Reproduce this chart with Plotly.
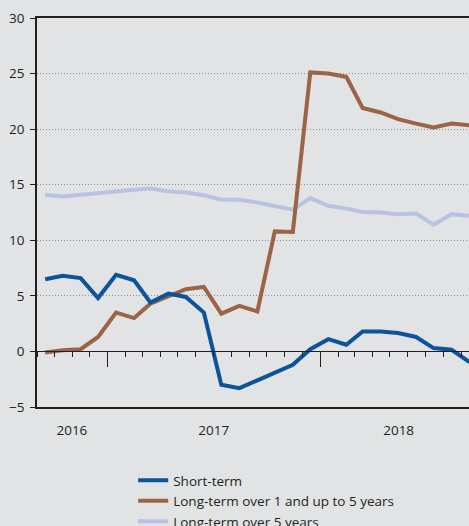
import pandas as pd
import plotly.graph_objects as go

months = ["2016-09", "2016-10", "2016-11", "2016-12",
          "2017-01", "2017-02", "2017-03", "2017-04", "2017-05", "2017-06",
          "2017-07", "2017-08", "2017-09", "2017-10", "2017-11", "2017-12",
          "2018-01", "2018-02", "2018-03", "2018-04", "2018-05", "2018-06",
          "2018-07", "2018-08", "2018-09"]

short_term = [6.5, 6.8, 6.6, 4.8, 6.9, 6.4, 4.4, 5.2, 4.9, 3.5,
              -3.0, -3.3, -2.6, -1.9, -1.2, 0.2, 1.1, 0.6, 1.8, 1.8,
              1.65, 1.3, 0.3, 0.15, -0.95]
long_1_5 = [-0.1, 0.1, 0.2, 1.3, 3.5, 3.0, 4.3, 5.0, 5.6, 5.8,
            3.4, 4.1, 3.6, 10.8, 10.75, 25.1, 25.0, 24.7, 21.9, 21.5,
            20.9, 20.5, 20.15, 20.5, 20.35]
long_5 = [14.1, 13.95, 14.1, 14.25, 14.45, 14.55, 14.65, 14.4, 14.3, 14.05,
          13.65, 13.65, 13.4, 13.05, 12.75, 13.8, 13.1, 12.85, 12.55, 12.5,
          12.35, 12.4, 11.4, 12.35, 12.2]

series_names = ["Short-term", "Long-term over 1 and up to 5 years", "Long-term over 5 years"]
series_colors = ["#0b549c", "#9b6445", "#b8c3e4"]

year_labels = ["2016", "2017", "2018"]
year_label_pos = ["2016-10-31", "2017-07-02", "2018-05-16"]

x_dates = [pd.Timestamp(m + "-15") for m in months]
x_range = ["2016-09-01", "2018-09-14"]

fig = go.Figure()
# draw light series underneath, short-term on top
order = [2, 1, 0]
all_vals = [short_term, long_1_5, long_5]
for i in order:
    fig.add_trace(go.Scatter(x=x_dates, y=all_vals[i], name=series_names[i], mode="lines",
                             line=dict(color=series_colors[i], width=4),
                             xaxis="x2" if i == 0 else "x"))

font_family = "Open Sans, Lato, sans-serif"
axis_col = "#231f20"

fig.update_layout(
    width=469, height=526,
    margin=dict(l=37, r=0, t=18, b=119, autoexpand=False),
    paper_bgcolor="#e1e3e5",
    plot_bgcolor="#e1e3e5",
    font=dict(family=font_family, size=13, color=axis_col),
    showlegend=True,
    legend=dict(orientation="v", xref="container", yref="container",
                x=0.284, xanchor="left", y=0.116, yanchor="top",
                traceorder="reversed", bgcolor="rgba(0,0,0,0)",
                font=dict(size=13.5, color=axis_col), itemwidth=30),
    xaxis=dict(type="date", range=x_range, showline=True, mirror=True,
               linecolor=axis_col, linewidth=1.5, showgrid=False, zeroline=False,
               tickmode="array", tickvals=year_label_pos, ticktext=year_labels,
               ticks="", ticklabelstandoff=10, tickfont=dict(size=13.5),
               automargin=False),
    xaxis2=dict(type="date", range=x_range, overlaying="x", anchor="free",
                position=1/7, side="bottom", showline=True, linecolor=axis_col,
                linewidth=1, showgrid=False, zeroline=False, showticklabels=False,
                ticks="outside", tickmode="linear", tick0="2017-01-01", dtick="M12",
                ticklen=15, tickwidth=1, tickcolor=axis_col, automargin=False,
                minor=dict(ticks="outside", tick0="2017-01-01", dtick="M1",
                           ticklen=5, tickwidth=1, tickcolor=axis_col, showgrid=False)),
    yaxis=dict(range=[-5, 30], dtick=5, tick0=0, showline=True, linecolor=axis_col,
               linewidth=1.5, ticks="outside", ticklen=5, tickcolor=axis_col,
               showgrid=True, gridcolor="#8e8e8e", griddash="1px,2px", gridwidth=1,
               zeroline=False, tickfont=dict(size=13.5), ticklabelstandoff=3,
               automargin=False),
)

fig.write_html("out.html", config={"displayModeBar": False},
               post_script="document.body.style.margin='0px';document.body.style.overflow='hidden';")
